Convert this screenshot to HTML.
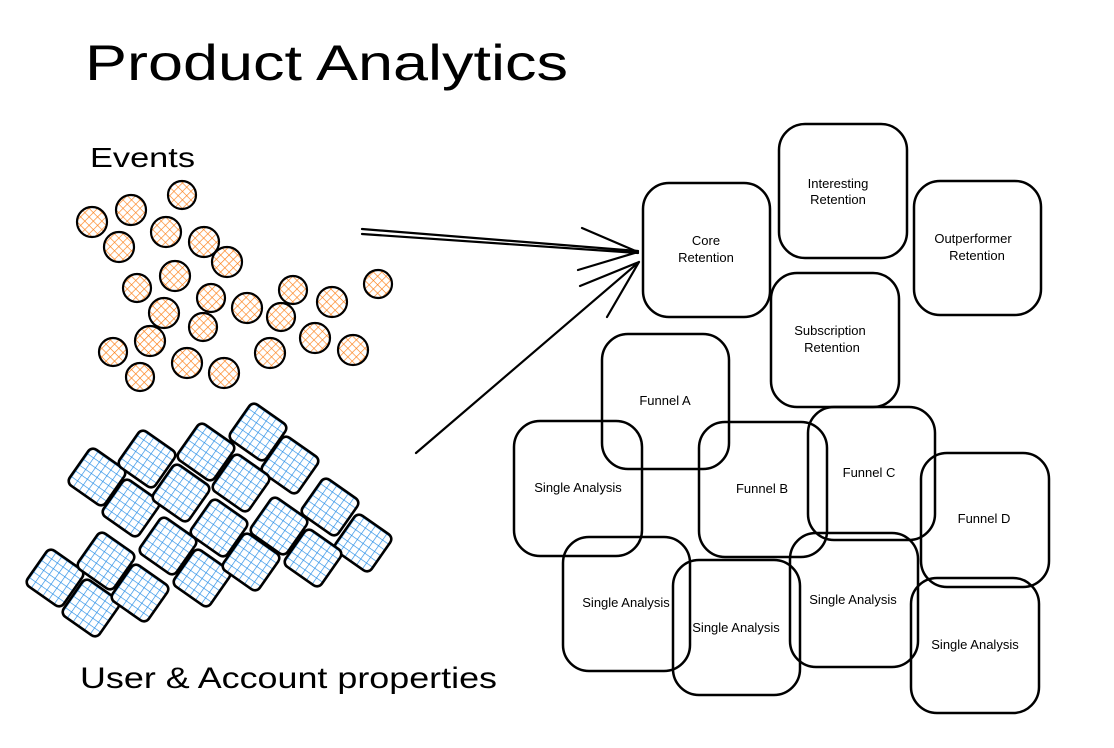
<!DOCTYPE html>
<html><head><meta charset="utf-8"><style>
html,body{margin:0;padding:0;background:#fff;width:1114px;height:748px;overflow:hidden}
svg{display:block}
text{font-family:"Liberation Sans",sans-serif;fill:#000}
</style></head><body>
<svg width="1114" height="748" viewBox="0 0 1114 748" xmlns="http://www.w3.org/2000/svg">
<defs>
<pattern id="ho" width="6" height="6" patternUnits="userSpaceOnUse" patternTransform="rotate(45)">
<rect width="6" height="6" fill="#fff"/>
<path d="M0 0V6M0 0H6" stroke="#fd7e14" stroke-width="1.3"/>
</pattern>
<pattern id="hb" width="7" height="7" patternUnits="userSpaceOnUse">
<rect width="7" height="7" fill="#fff"/>
<path d="M0 0V7M0 0H7" stroke="#228be6" stroke-width="1.3"/>
</pattern>
</defs>
<text x="85" y="80" font-size="50" textLength="483" lengthAdjust="spacingAndGlyphs">Product Analytics</text>
<text x="90" y="167" font-size="28" textLength="105" lengthAdjust="spacingAndGlyphs">Events</text>
<text x="80" y="688" font-size="30" textLength="417" lengthAdjust="spacingAndGlyphs">User &amp; Account properties</text>

<g fill="url(#ho)" stroke="#000" stroke-width="2.2">
<circle cx="92" cy="222" r="15"/><circle cx="131" cy="210" r="15"/><circle cx="182" cy="195" r="14"/>
<circle cx="119" cy="247" r="15"/><circle cx="166" cy="232" r="15"/><circle cx="204" cy="242" r="15"/>
<circle cx="227" cy="262" r="15"/><circle cx="175" cy="276" r="15"/><circle cx="137" cy="288" r="14"/>
<circle cx="211" cy="298" r="14"/><circle cx="164" cy="313" r="15"/><circle cx="203" cy="327" r="14"/>
<circle cx="247" cy="308" r="15"/><circle cx="293" cy="290" r="14"/><circle cx="281" cy="317" r="14"/>
<circle cx="332" cy="302" r="15"/><circle cx="378" cy="284" r="14"/><circle cx="150" cy="341" r="15"/>
<circle cx="113" cy="352" r="14"/><circle cx="187" cy="363" r="15"/><circle cx="140" cy="377" r="14"/>
<circle cx="224" cy="373" r="15"/><circle cx="270" cy="353" r="15"/><circle cx="315" cy="338" r="15"/>
<circle cx="353" cy="350" r="15"/>
</g>

<g fill="url(#hb)" stroke="#000" stroke-width="2.6">
<rect x="-22" y="-22" width="44" height="44" rx="6" transform="translate(97 477) rotate(35)"/>
<rect x="-22" y="-22" width="44" height="44" rx="6" transform="translate(147 459) rotate(35)"/>
<rect x="-22" y="-22" width="44" height="44" rx="6" transform="translate(206 452) rotate(35)"/>
<rect x="-22" y="-22" width="44" height="44" rx="6" transform="translate(258 432) rotate(35)"/>
<rect x="-22" y="-22" width="44" height="44" rx="6" transform="translate(290 465) rotate(35)"/>
<rect x="-22" y="-22" width="44" height="44" rx="6" transform="translate(131 508) rotate(35)"/>
<rect x="-22" y="-22" width="44" height="44" rx="6" transform="translate(181 493) rotate(35)"/>
<rect x="-22" y="-22" width="44" height="44" rx="6" transform="translate(241 483) rotate(35)"/>
<rect x="-22" y="-22" width="44" height="44" rx="6" transform="translate(330 507) rotate(35)"/>
<rect x="-22" y="-22" width="44" height="44" rx="6" transform="translate(219 528) rotate(35)"/>
<rect x="-22" y="-22" width="44" height="44" rx="6" transform="translate(279 526) rotate(35)"/>
<rect x="-22" y="-22" width="44" height="44" rx="6" transform="translate(168 546) rotate(35)"/>
<rect x="-22" y="-22" width="44" height="44" rx="6" transform="translate(363 543) rotate(35)"/>
<rect x="-22" y="-22" width="44" height="44" rx="6" transform="translate(55 578) rotate(35)"/>
<rect x="-22" y="-22" width="44" height="44" rx="6" transform="translate(106 561) rotate(35)"/>
<rect x="-22" y="-22" width="44" height="44" rx="6" transform="translate(202 578) rotate(35)"/>
<rect x="-22" y="-22" width="44" height="44" rx="6" transform="translate(251 562) rotate(35)"/>
<rect x="-22" y="-22" width="44" height="44" rx="6" transform="translate(313 558) rotate(35)"/>
<rect x="-22" y="-22" width="44" height="44" rx="6" transform="translate(91 608) rotate(35)"/>
<rect x="-22" y="-22" width="44" height="44" rx="6" transform="translate(140 593) rotate(35)"/>
</g>

<g stroke="#000" stroke-width="2.2" fill="none" stroke-linecap="round">
<path d="M362 229L638 251M362 234L638 253"/>
<path d="M638 252L582 228M638 252L578 270"/>
<path d="M416 453L639 262M639 262L580 286M639 262L607 317"/>
</g>

<g fill="none" stroke="#000" stroke-width="2.5">
<rect x="643" y="183" width="127" height="134" rx="26"/>
<rect x="779" y="124" width="128" height="134" rx="26"/>
<rect x="914" y="181" width="127" height="134" rx="26"/>
<rect x="771" y="273" width="128" height="134" rx="26"/>
<rect x="602" y="334" width="127" height="135" rx="26"/>
<rect x="514" y="421" width="128" height="135" rx="26"/>
<rect x="699" y="422" width="128" height="135" rx="26"/>
<rect x="808" y="407" width="127" height="133" rx="26"/>
<rect x="921" y="453" width="128" height="134" rx="26"/>
<rect x="563" y="537" width="127" height="134" rx="26"/>
<rect x="673" y="560" width="127" height="135" rx="26"/>
<rect x="790" y="533" width="128" height="134" rx="26"/>
<rect x="911" y="578" width="128" height="135" rx="26"/>
</g>

<g font-size="13" text-anchor="middle">
<text x="706" y="245">Core</text><text x="706" y="262">Retention</text>
<text x="838" y="188">Interesting</text><text x="838" y="204">Retention</text>
<text x="973" y="243">Outperformer</text><text x="977" y="260">Retention</text>
<text x="830" y="335">Subscription</text><text x="832" y="352">Retention</text>
<text x="665" y="405">Funnel A</text>
<text x="578" y="492">Single Analysis</text>
<text x="762" y="493">Funnel B</text>
<text x="869" y="477">Funnel C</text>
<text x="984" y="523">Funnel D</text>
<text x="626" y="607">Single Analysis</text>
<text x="736" y="632">Single Analysis</text>
<text x="853" y="604">Single Analysis</text>
<text x="975" y="649">Single Analysis</text>
</g>
</svg>
</body></html>
